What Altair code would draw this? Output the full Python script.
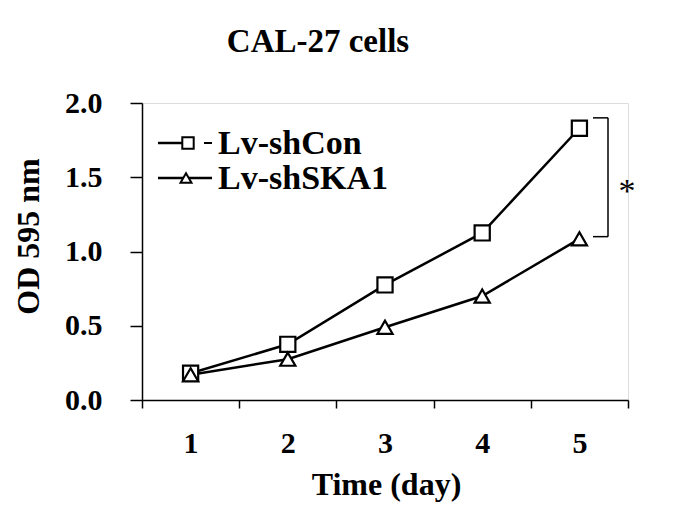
import altair as alt
import pandas as pd

days = [1, 2, 3, 4, 5]
sh_con = [0.18, 0.375, 0.775, 1.125, 1.83]
sh_ska1 = [0.17, 0.275, 0.49, 0.70, 1.085]
series_names = ["Lv-shCon", "Lv-shSKA1"]
chart_title = "CAL-27 cells"

df = pd.DataFrame({
    "day": days * 2,
    "od": sh_con + sh_ska1,
    "series": [series_names[0]] * 5 + [series_names[1]] * 5,
})

FONT = "Liberation Serif"
W, H = 486, 297

x_enc = alt.X(
    "day:O",
    scale=alt.Scale(type="band", paddingInner=0, paddingOuter=0),
    axis=alt.Axis(
        title="Time (day)", tickBand="extent", labelAngle=0,
        labelFont=FONT, labelFontWeight="bold", labelFontSize=30, labelColor="black",
        labelPadding=20, tickSize=8, tickColor="black", tickWidth=1.5,
        domainColor="black", domainWidth=1.5, grid=False,
        titleFont=FONT, titleFontWeight="bold", titleFontSize=32, titleColor="black",
        titleX=244, titleY=94, titleBaseline="alphabetic", titleAlign="center",
    ),
)
y_enc = alt.Y(
    "od:Q",
    scale=alt.Scale(domain=[0, 2], nice=False),
    axis=alt.Axis(
        title="OD 595 nm", values=[0, 0.5, 1.0, 1.5, 2.0], format=".1f",
        labelFont=FONT, labelFontWeight="bold", labelFontSize=30, labelColor="black",
        labelPadding=28, tickSize=12, tickColor="black", tickWidth=1.5,
        domainColor="black", domainWidth=1.5, grid=False,
        titleFont=FONT, titleFontWeight="bold", titleFontSize=32, titleColor="black",
        titleX=-114, titleY=133, titleAngle=-90, titleBaseline="middle", titleAlign="center",
    ),
)

lines = alt.Chart(df).mark_line(color="black", strokeWidth=2.5).encode(
    x=x_enc, y=y_enc, detail="series:N"
)
points = alt.Chart(df).mark_point(
    filled=True, fill="white", stroke="black", strokeWidth=2.2, size=230, opacity=1
).encode(
    x=alt.X("day:O"), y=alt.Y("od:Q"),
    shape=alt.Shape("series:N", scale=alt.Scale(domain=series_names, range=["square", "triangle-up"]), legend=None),
)

# significance bracket
br_v = alt.Chart().mark_rule(color="black", strokeWidth=1.5).encode(
    x=alt.value(466), y=alt.datum(1.10), y2=alt.datum(1.90)
)
br_top = alt.Chart().mark_rule(color="black", strokeWidth=1.5).encode(
    x=alt.value(451), x2=alt.value(466), y=alt.datum(1.90)
)
br_bot = alt.Chart().mark_rule(color="black", strokeWidth=1.5).encode(
    x=alt.value(451), x2=alt.value(466), y=alt.datum(1.10)
)
star = alt.Chart().mark_text(text="*", font=FONT, fontSize=34, color="black", align="center", baseline="alphabetic").encode(
    x=alt.value(485), y=alt.datum(1.33)
)

# title
title_txt = alt.Chart().mark_text(text=chart_title, font=FONT, fontWeight="bold", fontSize=33, align="center", baseline="alphabetic", color="black").encode(
    x=alt.value(176), y=alt.value(-51)
)

# manual legend
def lrule(x1, x2, y, w=2.5):
    return alt.Chart().mark_rule(color="black", strokeWidth=w).encode(
        x=alt.value(x1), x2=alt.value(x2), y=alt.value(y)
    )

leg1_line = lrule(16, 40, 40)
leg1_dash = lrule(62, 70, 40, 2)
leg1_sym = alt.Chart().mark_point(shape="square", filled=True, fill="white", stroke="black", strokeWidth=2, size=130, opacity=1).encode(
    x=alt.value(46), y=alt.value(40)
)
leg1_txt = alt.Chart().mark_text(text=series_names[0], font=FONT, fontWeight="bold", fontSize=34, align="left", baseline="alphabetic", color="black").encode(
    x=alt.value(76), y=alt.value(51)
)
leg2_line = lrule(16, 70, 75)
leg2_sym = alt.Chart().mark_point(shape="triangle-up", filled=True, fill="white", stroke="black", strokeWidth=2, size=120, opacity=1).encode(
    x=alt.value(44), y=alt.value(75)
)
leg2_txt = alt.Chart().mark_text(text=series_names[1], font=FONT, fontWeight="bold", fontSize=34, align="left", baseline="alphabetic", color="black").encode(
    x=alt.value(76), y=alt.value(86)
)

chart = alt.layer(
    lines, points, br_v, br_top, br_bot, star, title_txt,
    leg1_line, leg1_dash, leg1_sym, leg1_txt, leg2_line, leg2_sym, leg2_txt,
).properties(
    width=W, height=H,
    autosize=alt.AutoSizeParams(type="none"),
    padding={"left": 134, "top": 95, "right": 49, "bottom": 114},
).configure_view(stroke=None).configure(background="white")

chart.save("out.html", embed_options={"renderer": "svg", "actions": False})
